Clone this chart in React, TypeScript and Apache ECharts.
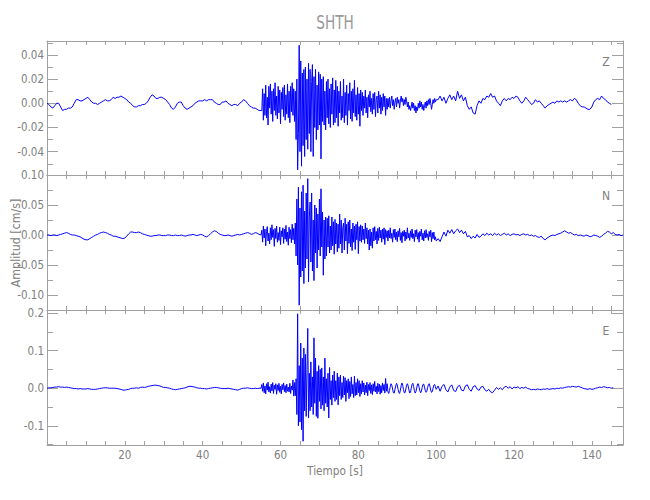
import React, { useEffect, useRef } from "react";
import * as echarts from "echarts";

// ---- sampling grids (seconds) ----
const PRE_START = 0;
const PRE_STEP = 0.5;
const MAIN_START = 55.2;
const MAIN_STEP = 0.2;
const CODA_START = 100.5;
const CODA_STEP = 0.5;

// ---- amplitudes, in units of 0.001 cm/s ----
// Z component
const zPre = [
  0, -1, -3, -4, -2, 0, 0, -3, -6, -5, -5, -4, -4, -3, 0, 3, 3, 2, 2, 3, 4, 5, 3, 1, 0, 0, -1, 0, 1, 2,
  3, 2, 2, 3, 5, 4, 5, 5, 6, 5, 4, 3, 1, 0, -2, -3, -3, -2, -2, -1, -1, 0, 2, 5, 7, 6, 4, 4, 5, 5,
  4, 3, 1, -1, -4, -5, -3, 0, 1, 1, -2, -4, -5, -4, -3, -2, 0, 1, 2, 2, 2, 3, 2, 3, 3, 3, 1, 0, -1, -1,
  1, 1, 2, 0, -1, -2, -1, -1, -2, 0, 1, 3, 2, 0, -2, -3, -4, -4, -5, -6, -6,
];
const zMain = [
  -6, 12, -14, 8, -10, 15, -12, 5, -18, 14, -4, 16, -9, 10, -15, 12, -6, 17, -10, 6, -13, 14, -8, 11, -17,
  9, -5, 13, -11, 15, -14, 7, -9, 16, -12, 10, -16, 14, -7, 17, -10, 12, -15,
  10, -30, 20, -55, -25, 48, -40, 35, -52, 25, -35, 28,
  -44, 30, -30, 20, -38, 33, -25, 28, -40, 18, 32, -44, 22, -20, 28, -30, 15, -22, 26, -18, 24, -46,
  20, -15, 22, -18, 10, -22, 18, -12, 20, -17, 12, -20, 16, -9, 21, -18, 11, -16, 19, -12, 14,
  -19, 10, -8, 18, -14, 6, -12, 20, -16, 9, -10, 15, -18, 8, -6, 17, -13, 10, -15, 12, -8, 19, -11, 7, -14,
  13, -9, 8, -19, 11,
  -6, 9, -10, 6, -4, 11, -8, 5, -12, 7, -3, 10, -7, 4, -9, 8, -5, 9, -11, 3, 6, -8, 10, -4, 7, -9, 5, -6,
  8, -3, 6, -10, 4, -5,
  4, -3, 5, -4, 2, 6, -2, 3, -5, 1, 4, -3, 5, 0, 3, -4, 2, 6, 1, 4, -2, 3, -1, 5, 2, -3, 1, -5, -2, -6,
  -3, 1, -4, 0, -6, -2, -8, -3, -6, 0, -4, 2, -3, 1, -5, -1, -6, -2, 1, -4, 2, -2, 3, -1, 4, 0, -5, -1, 3,
  0, 4, 1, 3,
];
const zCoda = [
  3, 6, 2, 5, 0, 4, 7, 3, 6, 2, 10, 4, 7, 2, 5, -2, -5, -3, -8, -9, -2, 2, 0, 4, 3, 6, 5, 8, 5, 6,
  2, 0, -2, 2, 4, 2, 4, 3, 5, 4, 6, 5, 2, 0, 2, 5, 3, 1, -1, 0, 3, 1, 2, 0, -2, -4, -2, -1, 0, 1,
  0, 2, 1, 2, 1, 2, 1, 2, 3, 2, 4, 3, 0, -2, -3, -3, -4, -5, -5, -3, 1, 3, 4, 3, 6, 4, 3, 1, 0, -1,
];

// N component
const nPre = [
  0, 0, -1, 0, 0, -1, 0, 1, 2, 3, 4, 3, 1, 0, 0, -1, -2, -3, -5, -7, -8, -8, -6, -4, -2, 0, 1, 3, 4, 5,
  4, 3, 1, 0, -2, -2, -3, -4, -5, -6, -5, -2, 2, 5, 5, 4, 4, 5, 4, 2, 1, 0, -1, -2, -2, -1, -1, 0, 0, -1,
  -1, -1, 0, 0, -1, -1, 0, -1, -1, 0, -1, -2, -1, 0, 0, 1, 0, -1, 0, 1, 0, -2, -3, -1, 2, 5, 7, 6, 3, 1,
  0, -1, -1, 0, -1, -2, -1, 0, 1, 0, 1, 2, 3, 4, 3, 1, 2, 4, 3, 1, 0,
];
const nMain = [
  8, -12, 15, -5, 10, -18, 6, 14, -10, 3, -15, 12, -8, 17, -4, 9, -19, 11, -6, 15, -12, 4, -9, 13, -16,
  7, -3, 12, -14, 10, -7, 16, -11, 5, -17, 13, -6, 9, -13, 18, -8, 11, -15,
  20, -35, 60, -50, 80, -117, 45, -70, 72, -60, 83, -81,
  40, -55, 70, -40, 94, -78, 30, 55, -45, 70, -60, 25, -76, 50, -30, 45, -55, 35, -25, 60, -35, 77,
  -20, 38, -67, 25, -40, 30, -35, 28, -20, 32, -30, 15, -25, 30, -18, 22, -32, 26, -15, 20, -28,
  18, -22, 35, -15, 25, -30, 12, 20, -25, 28, -10, 18, -31, 22, -14, 25, -20, 10, -26, 20, -12, 15, -24,
  18, -8, 22, -31, 14, -10, 17,
  -12, 15, -8, 10, -14, 20, -6, 12, -15, 8, -25, 10, -18, 5, -22, 12, -10, 14, -8, 6, -15, 11, -9, 13,
  -5, 8, -12, 10, -7, 12, -16, 9, -4, 7,
  -10, 8, -5, 12, -6, 3, -12, 9, -4, 10, -8, 5, -11, 7, -3, 11, -9, 4, -13, 6, -2, 8, -10, 5, -7, 12,
  -5, 3, -9, 7, -4, 10, -6, 2, -11, 8, -3, 9, -7, 4, -12, 6, -2, 10, -8, 3, -10, 7, -5, 9, -4, 2, -9,
  6, -3, 8, -11, 4, -6, 5, -8, -3, -10,
];
const nCoda = [
  -6, -11, -3, 5, -2, 8, 3, 9, 2, 7, 10, 4, 8, 2, 6, -3, -1, -6, -2, -5, 1, -4, -2, 2, -1, 3, 0, 2, -1, 3,
  0, 2, -1, 1, 3, 0, 2, -1, 1, 2, 0, 1, -1, 1, 2, 0, 1, -1, 0, -2, -1, -3, -4, -2, -6, -8, -5, -3, -1, 0,
  -1, 1, 2, 3, 5, 7, 5, 3, 4, 2, 0, 1, -1, 0, -1, -2, 0, -1, -3, -2, 0, -1, -2, -4, -2, 1, 3, 6, 5, 2,
  4, 1, 0, 1, -1, 0,
];

// E component
const ePre = [
  0, 1, 1, 2, 3, 3, 4, 3, 3, 2, 3, 2, 1, 0, -1, -1, -2, -1, -2, -2, -2, -1, -2, -3, -3, -3, -2, -1, 0, 1,
  1, 1, 0, 0, 0, 0, -1, -2, -3, -5, -5, -4, -3, -1, 0, 0, 1, 0, 2, 3, 2, 3, 5, 6, 7, 8, 8, 7, 6, 4,
  2, 2, 1, 0, -2, -3, -4, -3, -2, -1, 0, 1, 3, 5, 5, 4, 3, 1, 0, 0, -1, -1, -2, -1, 0, 1, 2, 2, 1, 0,
  -1, -1, -1, 0, -1, -2, -3, -4, -5, -3, -1, 0, 0, 1, 0, -1, -1, 0, -1, 0, 0,
];
const eMain = [
  10, -8, 14, -12, 6, -15, 12, -5, 16, -10, 4, -13, 11, -7, 15, -14, 8, -3, 12, -16, 9, -6, 13, -11, 5,
  -15, 10, -4, 14, -9, 7, -12, 11, -8, 3, -10, 13, -14, 6, -5, 22, -21, 15,
  -20, 25, -70, 198, -100, 60, -90, 120, -110, 80, -141, 107,
  -60, 90, -75, 50, 159, -79, 40, -60, 70, -50, 30, -70, 134, -40, 80, -75, 45, -80, 60, -35, 50, -55,
  54, -45, 30, -60, 80, -40, 25, -50, 40, -79, 55, -30, 20, -45, 35, -25, 45, -35, 20, -30, 40,
  -44, 30, -20, 35, -30, 15, -25, 32, -18, 28, -35, 20, -12, 25, -28, 18, -22, 30, -15, 10, -25, 32, -20,
  15, -18, 25, -12, 20, -22, 12,
  -15, 20, -10, 14, -18, 8, -12, 16, -20, 10, -6, 15, -14, 9, -17, 12, -8, 18, -10, 5, -15, 13, -9, 11,
  -16, 7, -12, 14, -6, 10, -13, 26, -8, 12,
  -10, -14, -6, 4, 12, 8, -2, -12, -13, -4, 6, 13, 9, -3, -11, -14, -5, 7, 14, 8, -4, -12, -12, -2, 8,
  12, 6, -5, -13, -10, 0, 10, 13, 5, -6, -13, -9, 1, 11, 12, 3, -7, -12, -8, 2, 10, 11, 3, -6, -11, -8,
  2, 9, 12, 5, -5, -11, -9, 0, 8, 10, 4, -3,
];
const eCoda = [
  6, -8, 5, 10, -4, -10, 3, 9, -6, -9, 4, 8, -5, -7, 6, 9, -3, -8, 4, 7, -2, -6, 3, 5, -4, -8, -3, -10,
  -12, -5, 2, -3, 1, -4, 3, 5, 0, 4, -2, 3, 1, 4, -1, 2, 0, 3, -1, -2, -4, -3, -4, -2, -3, -4, -2, -3,
  -1, -3, -2, -1, -2, 0, -1, 1, 0, 2, 3, 4, 3, 5, 4, 3, 5, 3, 1, -1, -2, -3, -1, -3, -2, 0, 1, 3, 2, 4,
  3, 1, 2, 0, 1,
];

// ---- axes ----
const X_MIN = 0;
const X_MAX = 148;
const xTickValues = [5, 10, 15, 20, 25, 30, 35, 40, 45, 50, 55, 60, 65, 70, 75, 80, 85, 90, 95, 100, 105, 110, 115, 120, 125, 130, 135, 140, 145];
const xLabelValues = [20, 40, 60, 80, 100, 120, 140];

const zRange = [-0.0593, 0.0515];
const zMajor = [-0.04, -0.02, 0, 0.02, 0.04];
const zMinor = [-0.05, -0.03, -0.01, 0.01, 0.03, 0.05];
const nRange = [-0.125, 0.1];
const nMajor = [-0.1, -0.05, 0, 0.05, 0.1];
const nMinor = [-0.075, -0.025, 0.025, 0.075];
const eRange = [-0.151, 0.208];
const eMajor = [-0.1, 0, 0.1, 0.2];
const eMinor = [-0.15, -0.05, 0.05, 0.15];

const TITLE = "SHTH";
const Y_NAME = "Amplitud [cm/s]";
const X_NAME = "Tiempo [s]";
const COMPONENTS = ["Z", "N", "E"];

const AXIS = "#a0a0a0";
const TXT = "#808080";
const LINE = "#0000ff";
const FONT = "'DejaVu Sans Condensed', 'Liberation Sans Narrow', 'DejaVu Sans', sans-serif";

function build(pre: number[], main: number[], coda: number[]) {
  const out: [number, number][] = [];
  pre.forEach((v, i) => out.push([PRE_START + i * PRE_STEP, v / 1000]));
  main.forEach((v, i) => out.push([MAIN_START + i * MAIN_STEP, v / 1000]));
  coda.forEach((v, i) => out.push([CODA_START + i * CODA_STEP, v / 1000]));
  return out;
}

const GRID_LEFT = 47;
const GRID_WIDTH = 576;
const gridTops = [41, 175, 310];
const gridHeights = [134, 135, 135];

export default function App() {
  const ref = useRef<HTMLDivElement>(null);
  useEffect(() => {
    if (!ref.current) return;
    const chart = echarts.init(ref.current, undefined, { renderer: "svg" });
    const traces = [
      build(zPre, zMain, zCoda),
      build(nPre, nMain, nCoda),
      build(ePre, eMain, eCoda),
    ];
    const ranges = [zRange, nRange, eRange];
    const majors = [zMajor, nMajor, eMajor];
    const minors = [zMinor, nMinor, eMinor];
    const decimals = [2, 2, 1];

    const grids = gridTops.map((t, i) => ({
      left: GRID_LEFT,
      width: GRID_WIDTH,
      top: t,
      height: gridHeights[i],
      containLabel: false,
    }));

    const xAxes: any[] = [];
    const yAxes: any[] = [];
    for (let g = 0; g < 3; g++) {
      const xCommon = {
        type: "value",
        gridIndex: g,
        min: X_MIN,
        max: X_MAX,
        splitLine: { show: false },
        axisLine: { show: true, onZero: false, lineStyle: { color: AXIS, width: 1 } },
        axisTick: { show: true, inside: true, length: 4, customValues: xTickValues, lineStyle: { color: AXIS } },
      };
      xAxes.push({
        ...xCommon,
        position: "bottom",
        axisLabel: {
          show: g === 2,
          customValues: xLabelValues,
          color: TXT,
          fontSize: 11.5,
          fontFamily: FONT,
          margin: 4,
        },
      });
      xAxes.push({ ...xCommon, position: "top", axisLabel: { show: false } });

      const yCommon = {
        type: "value",
        gridIndex: g,
        min: ranges[g][0],
        max: ranges[g][1],
        splitLine: { show: false },
        axisLine: { show: true, onZero: false, lineStyle: { color: AXIS, width: 1 } },
      };
      const dec = decimals[g];
      yAxes.push({
        ...yCommon,
        position: "left",
        axisTick: { show: true, inside: true, length: 11, customValues: majors[g], lineStyle: { color: AXIS } },
        axisLabel: {
          show: true,
          customValues: majors[g],
          formatter: (v: number) => v.toFixed(dec),
          color: TXT,
          fontSize: 11.5,
          fontFamily: FONT,
          margin: 3,
        },
      });
      yAxes.push({
        ...yCommon,
        position: "left",
        axisLine: { show: false, onZero: false },
        axisTick: { show: true, inside: true, length: 6, customValues: minors[g], lineStyle: { color: AXIS } },
        axisLabel: { show: false },
      });
      yAxes.push({
        ...yCommon,
        position: "right",
        axisTick: { show: true, inside: true, length: 11, customValues: majors[g], lineStyle: { color: AXIS } },
        axisLabel: { show: false },
      });
      yAxes.push({
        ...yCommon,
        position: "right",
        axisLine: { show: false, onZero: false },
        axisTick: { show: true, inside: true, length: 6, customValues: minors[g], lineStyle: { color: AXIS } },
        axisLabel: { show: false },
      });
    }

    const series = traces.map((data, g) => ({
      type: "line",
      name: COMPONENTS[g],
      xAxisIndex: g * 2,
      yAxisIndex: g * 4,
      data,
      showSymbol: false,
      symbol: "none",
      lineStyle: { color: LINE, width: 1 },
      clip: true,
      z: 1,
    }));

    const graphic: any[] = [
      {
        type: "text",
        x: GRID_LEFT + GRID_WIDTH / 2,
        y: 22,
        scaleX: 0.8,
        style: { text: TITLE, fill: "#999", fontSize: 19, fontFamily: FONT, textAlign: "center", textVerticalAlign: "middle" },
      },
      {
        type: "text",
        x: 15,
        y: 243,
        rotation: Math.PI / 2,
        scaleX: 0.95,
        style: { text: Y_NAME, fill: TXT, fontSize: 13, fontFamily: FONT, textAlign: "center", textVerticalAlign: "middle" },
      },
      {
        type: "text",
        x: GRID_LEFT + GRID_WIDTH / 2,
        y: 471,
        scaleX: 0.9,
        style: { text: X_NAME, fill: TXT, fontSize: 13, fontFamily: FONT, textAlign: "center", textVerticalAlign: "middle" },
      },
    ];
    COMPONENTS.forEach((c, g) => {
      graphic.push({
        type: "text",
        x: 606,
        y: gridTops[g] + 21,
        style: { text: c, fill: TXT, fontSize: 12, fontFamily: FONT, textAlign: "center", textVerticalAlign: "middle" },
      });
    });

    chart.setOption({
      animation: false,
      backgroundColor: "#ffffff",
      grid: grids,
      xAxis: xAxes,
      yAxis: yAxes,
      series,
      graphic,
    });
    return () => chart.dispose();
  }, []);
  return (
    <div
      ref={ref}
      style={{ position: "absolute", left: 0, top: 0, width: 650, height: 500 }}
    />
  );
}
